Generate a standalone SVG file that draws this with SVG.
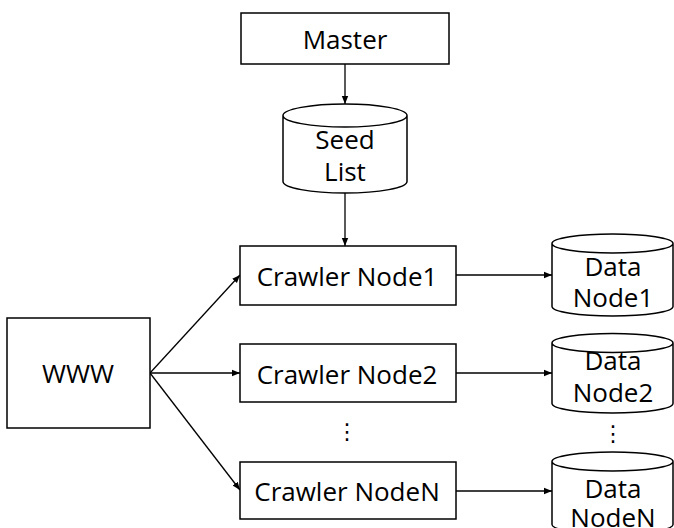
<svg xmlns="http://www.w3.org/2000/svg" width="674" height="528" viewBox="0 0 674 528">
<style>
.box{fill:#fff;stroke:#000;stroke-width:1.5}
.cyl{fill:#fff;stroke:#000;stroke-width:1.5}
.t{font-family:"Open Sans","Noto Sans","DejaVu Sans",sans-serif;font-size:26px;fill:#000;text-anchor:middle}
.d{font-family:"Open Sans","Noto Sans","DejaVu Sans",sans-serif;font-size:22px;fill:#000;text-anchor:middle}
.c{stroke:#000;stroke-width:1.3;fill:none;marker-end:url(#ah)}
</style>
<defs>
<marker id="ah" viewBox="0 0 10 10" refX="10" refY="5" markerWidth="8" markerHeight="8" markerUnits="userSpaceOnUse" orient="auto">
<path d="M0,1 L10,5 L0,9 Z" fill="#000"/>
</marker>
</defs>
<g id="connectors">
<line class="c" x1="345" y1="64" x2="345" y2="104"/>
<line class="c" x1="345" y1="193" x2="345" y2="246"/>
<line class="c" x1="150" y1="373" x2="240" y2="275"/>
<line class="c" x1="150" y1="373" x2="240" y2="373"/>
<line class="c" x1="150" y1="373" x2="240" y2="490"/>
<line class="c" x1="456" y1="275" x2="552" y2="275"/>
<line class="c" x1="456" y1="373" x2="552" y2="373"/>
<line class="c" x1="456" y1="491" x2="552" y2="491"/>
</g>
<g id="master">
<rect class="box" x="241" y="13" width="208" height="51"/>
<text class="t" x="345" y="49">Master</text>
</g>
<g id="seedlist">
<path class="cyl" d="M283,115.5 L283,181.5 A62,11.5 0 0 0 407,181.5 L407,115.5 A62,11.5 0 0 0 283,115.5 A62,11.5 0 0 0 407,115.5"/>
<text class="t" x="345" y="149">Seed</text>
<text class="t" x="345" y="181">List</text>
</g>
<g id="www">
<rect class="box" x="7" y="318" width="143" height="110"/>
<text class="t" x="78" y="383">WWW</text>
</g>
<g id="crawler1">
<rect class="box" x="240" y="246" width="216" height="59"/>
<text class="t" x="347" y="286">Crawler Node1</text>
</g>
<g id="crawler2">
<rect class="box" x="240" y="344" width="216" height="58"/>
<text class="t" x="347" y="384">Crawler Node2</text>
</g>
<g id="crawlerN">
<rect class="box" x="240" y="462" width="216" height="57"/>
<text class="t" x="347" y="501">Crawler NodeN</text>
</g>
<g id="dots1">
<text class="d" x="347" y="439">⋮</text>
</g>
<g id="data1">
<path class="cyl" d="M552,243.5 L552,306.5 A60.5,9.5 0 0 0 673,306.5 L673,243.5 A60.5,9.5 0 0 0 552,243.5 A60.5,9.5 0 0 0 673,243.5"/>
<text class="t" x="613" y="276">Data</text>
<text class="t" x="613" y="307">Node1</text>
</g>
<g id="data2">
<path class="cyl" d="M552,343 L552,403.5 A60.5,9.5 0 0 0 673,403.5 L673,343 A60.5,9.5 0 0 0 552,343 A60.5,9.5 0 0 0 673,343"/>
<text class="t" x="613" y="370">Data</text>
<text class="t" x="613" y="402">Node2</text>
</g>
<g id="dots2">
<text class="d" x="613" y="441">⋮</text>
</g>
<g id="dataN">
<path class="cyl" d="M552,461.5 L552,524.5 A60.5,9.5 0 0 0 673,524.5 L673,461.5 A60.5,9.5 0 0 0 552,461.5 A60.5,9.5 0 0 0 673,461.5"/>
<text class="t" x="613" y="498">Data</text>
<text class="t" x="613" y="527">NodeN</text>
</g>
</svg>
